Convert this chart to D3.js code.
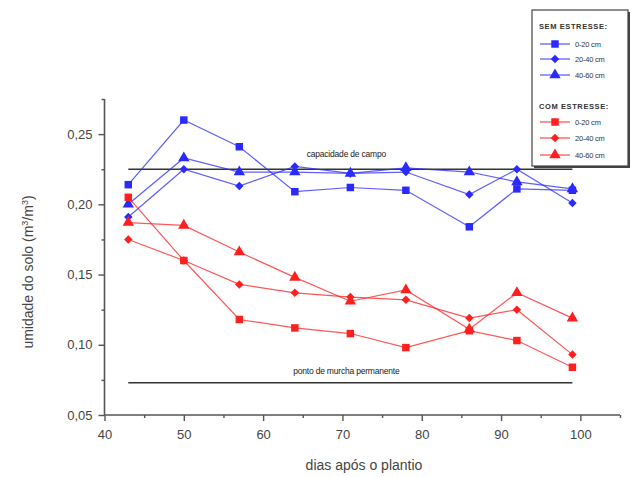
<!DOCTYPE html>
<html><head><meta charset="utf-8">
<script src="https://cdn.jsdelivr.net/npm/d3@7"></script>
<style>body{margin:0;background:#fff}svg{display:block}</style>
</head><body>
<script>
const days = [43, 50, 57, 64, 71, 78, 86, 92, 99];
const semA = [0.214, 0.260, 0.241, 0.209, 0.212, 0.210, 0.184, 0.211, 0.210]; // 0-20 cm
const semB = [0.191, 0.225, 0.213, 0.227, 0.222, 0.223, 0.207, 0.225, 0.201]; // 20-40 cm
const semC = [0.200, 0.233, 0.223, 0.223, 0.222, 0.226, 0.223, 0.216, 0.211]; // 40-60 cm
const comA = [0.205, 0.160, 0.118, 0.112, 0.108, 0.098, 0.110, 0.103, 0.084];
const comB = [0.175, 0.160, 0.143, 0.137, 0.134, 0.132, 0.119, 0.125, 0.093];
const comC = [0.187, 0.185, 0.166, 0.148, 0.131, 0.139, 0.111, 0.137, 0.119];
const xTicks = [40, 50, 60, 70, 80, 90, 100];
const yTicks = [0.05, 0.10, 0.15, 0.20, 0.25];
const refCampo = 0.225, refMurcha = 0.073;
const depthLabels = ["0-20 cm", "20-40 cm", "40-60 cm"];

const W = 633, H = 477;
const svg = d3.select("body").append("svg").attr("width", W).attr("height", H);
const x = d3.scaleLinear().domain([40, 105]).range([104.5, 620]);
const y = d3.scaleLinear().domain([0.05, 0.275]).range([415, 99]);
const axisCol = "#555";
const tickFont = "Arial, 'Liberation Sans', sans-serif";

// axes
const xAx = svg.append("g").attr("transform", `translate(0,${y(0.05)})`)
  .call(d3.axisBottom(x).tickValues(xTicks).tickSize(6).tickPadding(9).tickFormat(d3.format("d")));
svg.append("g").attr("transform", `translate(0,${y(0.05)})`)
  .call(d3.axisBottom(x).tickValues([45,55,65,75,85,95,105]).tickSize(3).tickFormat(""))
  .select(".domain").remove();
const yAx = svg.append("g").attr("transform", `translate(${x(40)},0)`)
  .call(d3.axisLeft(y).tickValues(yTicks).tickSize(6).tickPadding(6).tickFormat(d => d3.format(".2f")(d).replace(".", ",")));
svg.append("g").attr("transform", `translate(${x(40)},0)`)
  .call(d3.axisLeft(y).tickValues([0.075,0.125,0.175,0.225,0.275]).tickSize(3).tickFormat(""))
  .select(".domain").remove();
svg.selectAll(".domain").attr("stroke", axisCol).attr("stroke-width", 1.6);
svg.selectAll(".tick line").attr("stroke", axisCol).attr("stroke-width", 1.4);
svg.selectAll(".tick text").attr("fill", "#444").style("font-family", tickFont).style("font-size", "13px");
xAx.selectAll(".domain").attr("d", `M${x(40)},0H${x(105)}`);
yAx.selectAll(".domain").attr("d", `M0,${y(0.05)}V${y(0.275)}`);

// axis titles
svg.append("text").attr("x", 364).attr("y", 470).attr("text-anchor", "middle")
  .attr("fill", "#444").style("font-family", tickFont).style("font-size", "14px").text("dias após o plantio");
const yt = svg.append("text").attr("transform", "translate(33,272) rotate(-90)").attr("text-anchor", "middle")
  .attr("fill", "#444").style("font-family", tickFont).style("font-size", "14px");
yt.append("tspan").text("umidade do solo (m");
yt.append("tspan").attr("dy", -5).style("font-size", "9px").text("3");
yt.append("tspan").attr("dy", 5).text("/m");
yt.append("tspan").attr("dy", -5).style("font-size", "9px").text("3");
yt.append("tspan").attr("dy", 5).text(")");

// reference lines
[[refCampo, "capacidade de campo", -12], [refMurcha, "ponto de murcha permanente", -9]].forEach(([v, t, dy]) => {
  svg.append("line").attr("x1", x(43)).attr("x2", x(99)).attr("y1", y(v)).attr("y2", y(v))
    .attr("stroke", "#333").attr("stroke-width", 1.4);
  svg.append("text").attr("x", x(70.5)).attr("y", y(v) + dy).attr("text-anchor", "middle")
    .attr("fill", "#222").style("font-family", tickFont).style("font-size", "8.5px")
    .style("letter-spacing", "-0.2px").text(t);
});

// series
const blue = "#2a2aff", red = "#ff1f1f";
const series = [
  {vals: semA, color: blue, shape: "square"},
  {vals: semB, color: blue, shape: "diamond"},
  {vals: semC, color: blue, shape: "triangle"},
  {vals: comA, color: red, shape: "square"},
  {vals: comB, color: red, shape: "diamond"},
  {vals: comC, color: red, shape: "triangle"}
];
const symType = {square: d3.symbolSquare, diamond: d3.symbolDiamond2, triangle: d3.symbolTriangle};
const symSize = {square: 56, diamond: 46, triangle: 56};
const line = d3.line().x((d, i) => x(days[i])).y(d => y(d));
series.forEach(s => {
  svg.append("path").attr("d", line(s.vals)).attr("fill", "none")
    .attr("stroke", s.color).attr("stroke-opacity", 0.75).attr("stroke-width", 1.2);
  svg.selectAll(null).data(s.vals).enter().append("path")
    .attr("transform", (d, i) => `translate(${x(days[i])},${y(d)})`)
    .attr("d", d3.symbol().type(symType[s.shape]).size(symSize[s.shape]))
    .attr("fill", s.color);
});

// legend
const lg = svg.append("g");
lg.append("rect").attr("x", 534).attr("y", 12).attr("width", 96).attr("height", 156).attr("fill", "#444");
lg.append("rect").attr("x", 532).attr("y", 10).attr("width", 96).attr("height", 156)
  .attr("fill", "#fff").attr("stroke", "#444").attr("stroke-width", 1.2);
const lf = s => s.style("font-family", tickFont).style("font-size", "7.5px").attr("fill", "#333");
lf(lg.append("text").attr("x", 539).attr("y", 29).style("letter-spacing", "0.6px").style("font-weight", "bold").text("SEM ESTRESSE:"));
lf(lg.append("text").attr("x", 539).attr("y", 109).style("letter-spacing", "0.6px").style("font-weight", "bold").text("COM ESTRESSE:"));
const rowY = [44, 59, 75, 122, 138, 155];
series.forEach((s, i) => {
  const yy = rowY[i];
  lg.append("line").attr("x1", 540).attr("x2", 570).attr("y1", yy).attr("y2", yy)
    .attr("stroke", s.color).attr("stroke-width", 1.3).attr("stroke-opacity", 0.75);
  lg.append("path").attr("transform", `translate(555,${yy})`)
    .attr("d", d3.symbol().type(symType[s.shape]).size(symSize[s.shape]))
    .attr("fill", s.color);
  lf(lg.append("text").attr("x", 575).attr("y", yy + 3).style("letter-spacing", "-0.2px").text(depthLabels[i % 3]));
});
</script>
</body></html>
